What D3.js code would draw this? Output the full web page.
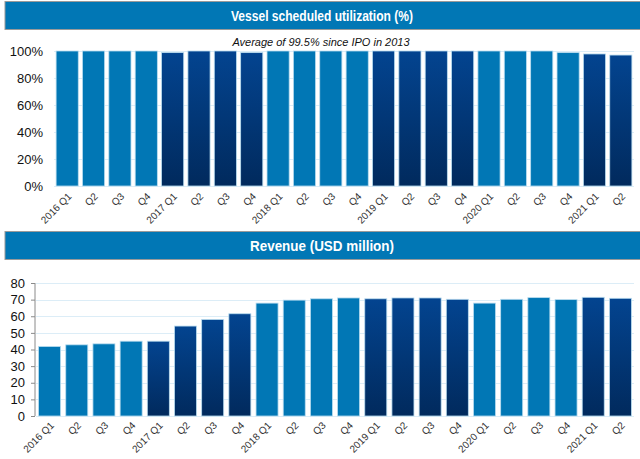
<!DOCTYPE html>
<html><head><meta charset="utf-8">
<script src="https://cdn.jsdelivr.net/npm/d3@7"></script>
<style>
html,body{margin:0;padding:0;background:#fff;}
svg{display:block;}
</style></head>
<body>
<svg id="c" width="640" height="459"></svg>
<script>
const categories = ["2016 Q1","Q2","Q3","Q4","2017 Q1","Q2","Q3","Q4","2018 Q1","Q2","Q3","Q4","2019 Q1","Q2","Q3","Q4","2020 Q1","Q2","Q3","Q4","2021 Q1","Q2"];
const years = [2016,2016,2016,2016,2017,2017,2017,2017,2018,2018,2018,2018,2019,2019,2019,2019,2020,2020,2020,2020,2021,2021];
const utilization = [100,100,100,100,98.8,100,100,98.8,100,100,100,100,100,100,100,100,100,100,100,98.8,97.8,97.0];
const revenue = [41.8,42.8,43.4,45.0,45.0,54.1,58.1,61.5,67.9,69.7,70.5,71.0,70.5,71.0,71.0,70.2,67.9,70.2,71.2,70.0,71.4,70.8];
const utilTicks = [0,20,40,60,80,100];
const revTicks = [0,10,20,30,40,50,60,70,80];
const titles = ["Vessel scheduled utilization (%)","Revenue (USD million)"];
const note = "Average of 99.5% since IPO in 2013";

const svg = d3.select("#c");
const defs = svg.append("defs");
const g = defs.append("linearGradient").attr("id","dark").attr("x1",0).attr("y1",0).attr("x2",0).attr("y2",1);
g.append("stop").attr("offset","0%").attr("stop-color","#034490");
g.append("stop").attr("offset","100%").attr("stop-color","#012a5d");
const LIGHT = "#0177b5";
const fillFor = i => (years[i] % 2 === 0) ? LIGHT : "url(#dark)";
const idx = categories.map((d,i)=>i);

function titleBar(y0, y1, text, width){
  svg.append("rect").attr("x",5).attr("y",y0).attr("width",640).attr("height",y1-y0)
    .attr("fill","#0177b5").attr("stroke","#9a9a9a").attr("stroke-width",1);
  svg.append("text").attr("x",322).attr("y",(y0+y1)/2).attr("dy","0.36em")
    .attr("text-anchor","middle").attr("fill","#fff")
    .attr("textLength",width).attr("lengthAdjust","spacingAndGlyphs")
    .style("font-family","'Liberation Sans',Arial,sans-serif")
    .style("font-weight","bold").style("font-size","15px").text(text);
}

function panel(opts){
  const {values, ticks, domainMax, x0, x1, yTop, yBot, pi, po, fmt, labelX, axisLine, labelY} = opts;
  const x = d3.scaleBand().domain(idx).range([x0,x1]).paddingInner(pi).paddingOuter(po);
  const y = d3.scaleLinear().domain([0,domainMax]).range([yBot,yTop]);
  const grp = svg.append("g");
  grp.selectAll("line.grid").data(ticks).join("line")
    .attr("x1",x0).attr("x2",x1)
    .attr("y1",d=>Math.round(y(d))+0.5).attr("y2",d=>Math.round(y(d))+0.5)
    .attr("stroke","#dcedf7").attr("stroke-width",1);
  const ya = d3.axisLeft(y).tickValues(ticks).tickFormat(fmt).tickSize(axisLine?4:0).tickPadding(axisLine?6:0);
  const yg = svg.append("g").attr("transform",`translate(${axisLine? x0-1 : labelX},0)`).call(ya);
  yg.select(".domain").attr("stroke", axisLine ? "#8a8a8a" : "none").attr("d", axisLine ? `M-0,${y(domainMax)}V${y(0)}` : null);
  yg.selectAll(".tick line").attr("stroke","#8a8a8a");
  yg.selectAll("text").attr("fill","#111").style("font-family","'Liberation Sans',Arial,sans-serif").style("font-size","13px");
  grp.selectAll("rect.bar").data(values).join("rect")
    .attr("x",(d,i)=>x(i)).attr("width",x.bandwidth())
    .attr("y",d=>y(d)).attr("height",d=>y(0)-y(d))
    .attr("fill",(d,i)=>fillFor(i))
    .attr("stroke","#b9dcef").attr("stroke-width",0.8);
  const xa = d3.axisBottom(x).tickFormat(i=>categories[i]).tickSize(0);
  const xg = svg.append("g").attr("transform",`translate(0,${labelY})`).call(xa);
  xg.select(".domain").remove();
  xg.selectAll("text").attr("text-anchor","end").attr("fill","#333")
    .style("font-family","'Liberation Sans',Arial,sans-serif").style("font-size","10px")
    .attr("dy",0).attr("y",0)
    .attr("transform","translate(5,1) rotate(-45)");
  return {x,y};
}

titleBar(1.5, 29.5, titles[0], 182);
panel({values:utilization, ticks:utilTicks, domainMax:100, x0:54, x1:634, yTop:51, yBot:186, pi:0.16, po:0.08,
  fmt:d=>d+"%", labelX:43, axisLine:false, labelY:196});
svg.append("text").attr("x",321).attr("y",46).attr("text-anchor","middle").attr("fill","#111")
  .style("font-family","'Liberation Sans',Arial,sans-serif").style("font-style","italic").style("font-size","11px").text(note);

titleBar(231.5, 259.5, titles[1], 144);
panel({values:revenue, ticks:revTicks, domainMax:80, x0:36, x1:634, yTop:283, yBot:416, pi:0.19, po:0.095,
  fmt:d=>d, labelX:26, axisLine:true, labelY:425});
</script>
</body></html>
